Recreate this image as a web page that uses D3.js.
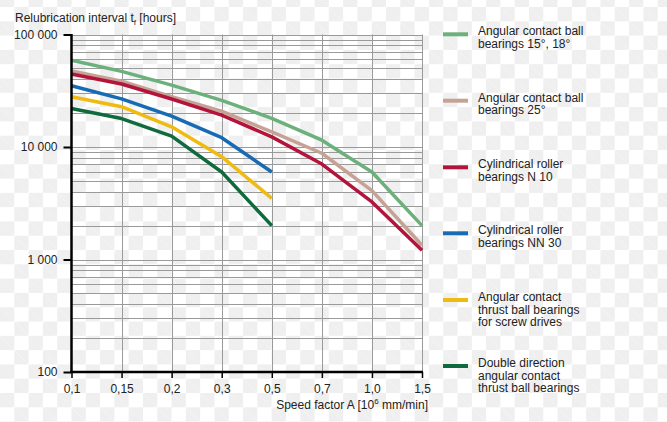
<!DOCTYPE html>
<html lang="en">
<head>
  <meta charset="UTF-8">
  <title>Relubrication interval</title>
  <script src="https://d3js.org/d3.v7.min.js"></script>
  <style>
    html, body { margin: 0; padding: 0; }
    body {
      width: 667px; height: 422px; overflow: hidden;
      background-color: #fff;
      background-image:
        linear-gradient(45deg, #efefef 25%, transparent 25%, transparent 75%, #efefef 75%),
        linear-gradient(45deg, #efefef 25%, transparent 25%, transparent 75%, #efefef 75%);
      background-size: 28.6px 28.6px;
      background-position: 0px 7px, 14.3px 21.3px;
    }
    svg { display: block; font-family: "Liberation Sans", Arial, sans-serif; }
    .grid line { stroke: #9a9a9a; stroke-width: 1; }
    .lbl { font-size: 12px; fill: #222; }
  </style>
</head>
<body>
<svg></svg>
<script>
  const speeds = ["0,1", "0,15", "0,2", "0,3", "0,5", "0,7", "1,0", "1,5"];
  const yTicks = [100, 1000, 10000, 100000];
  const yTickLabels = ["100", "1 000", "10 000", "100 000"];

  const acb1518 = [59000, 47000, 35500, 26000, 18000, 11500, 6000, 2000];
  const acb25 = [47500, 38500, 28000, 20800, 13600, 8800, 4100, 1340];
  const crbN10 = [44500, 36300, 26700, 19200, 12300, 7050, 3250, 1210];
  const crbNN30 = [35000, 26800, 18800, 12100, 6000];
  const actbScrew = [28000, 22800, 15100, 8200, 3500];
  const ddActb = [22000, 17900, 12500, 6000, 2000];

  const seriesNames = [
    ["Angular contact ball", "bearings 15°, 18°"],
    ["Angular contact ball", "bearings 25°"],
    ["Cylindrical roller", "bearings N 10"],
    ["Cylindrical roller", "bearings NN 30"],
    ["Angular contact", "thrust ball bearings", "for screw drives"],
    ["Double direction", "angular contact", "thrust ball bearings"]
  ];
  const seriesColors = ["#6cb07c", "#c6a295", "#b3143c", "#176bb5", "#f0bb10", "#0f6a3d"];
  const seriesValues = [acb1518, acb25, crbN10, crbNN30, actbScrew, ddActb];

  const width = 667, height = 422;
  const svg = d3.select("svg").attr("width", width).attr("height", height);

  const x = d3.scalePoint().domain(speeds).range([71.5, 422]);
  const y = d3.scaleLog().domain([100, 100000]).range([372, 34.5]);

  // grid
  const minor = [];
  [100, 1000, 10000].forEach(d => { for (let k = 2; k <= 9; k++) minor.push(d * k); });
  const grid = svg.append("g").attr("class", "grid");
  grid.selectAll(".h").data(minor.concat([100000])).enter().append("line")
    .attr("x1", x(speeds[0])).attr("x2", x(speeds[speeds.length - 1]))
    .attr("y1", d => Math.round(y(d)) + 0.5).attr("y2", d => Math.round(y(d)) + 0.5);
  grid.selectAll(".hm").data([1000, 10000]).enter().append("line")
    .attr("x1", x(speeds[0])).attr("x2", x(speeds[speeds.length - 1]))
    .attr("y1", d => Math.round(y(d)) + 0.5).attr("y2", d => Math.round(y(d)) + 0.5);
  grid.selectAll(".v").data(speeds.slice(1)).enter().append("line")
    .attr("x1", d => Math.round(x(d)) + 0.5).attr("x2", d => Math.round(x(d)) + 0.5)
    .attr("y1", y(100000)).attr("y2", y(100));

  // series lines
  const line = d3.line().x((d, i) => x(speeds[i])).y(d => y(d));
  svg.selectAll(".series").data(seriesValues).enter().append("path")
    .attr("d", d => line(d))
    .attr("fill", "none")
    .attr("stroke", (d, i) => seriesColors[i])
    .attr("stroke-width", 3.5)
    .attr("stroke-linejoin", "round");

  // axes
  const yAxis = svg.append("g").attr("transform", "translate(71.5,0)")
    .call(d3.axisLeft(y).tickValues(yTicks).tickFormat((d, i) => yTickLabels[i]).tickSize(8).tickPadding(6));
  yAxis.selectAll("text").attr("class", "lbl").attr("font-size", null).attr("font-family", null);
  yAxis.selectAll("line").attr("stroke", "#000").attr("stroke-width", 2);
  yAxis.select(".domain").remove();

  const xAxis = svg.append("g").attr("transform", "translate(0,372)")
    .call(d3.axisBottom(x).tickSize(6).tickPadding(6));
  xAxis.selectAll("text").attr("class", "lbl").attr("font-size", null).attr("font-family", null);
  xAxis.selectAll("line").attr("stroke", "#000").attr("stroke-width", 1.5);
  xAxis.select(".domain").remove();

  svg.append("line").attr("x1", 71.5).attr("x2", 71.5).attr("y1", 34).attr("y2", 373)
    .attr("stroke", "#000").attr("stroke-width", 2.5);
  svg.append("line").attr("x1", 70).attr("x2", 423).attr("y1", 372).attr("y2", 372)
    .attr("stroke", "#000").attr("stroke-width", 2.5);

  // axis titles
  const yt = svg.append("text").attr("class", "lbl").attr("x", 15).attr("y", 22);
  yt.append("tspan").text("Relubrication interval t");
  yt.append("tspan").attr("font-size", 8).attr("dy", 3).text("f");
  yt.append("tspan").attr("dy", -3).text(" [hours]");

  const xt = svg.append("text").attr("class", "lbl").attr("x", 428).attr("y", 409).attr("text-anchor", "end");
  xt.append("tspan").text("Speed factor A [10");
  xt.append("tspan").attr("font-size", 8).attr("dy", -5).text("6");
  xt.append("tspan").attr("dy", 5).text(" mm/min]");

  // legend
  const legendY = [34.3, 100.7, 167.3, 233.3, 300, 366];
  const lg = svg.selectAll(".leg").data(seriesNames).enter().append("g")
    .attr("transform", (d, i) => `translate(443,${legendY[i]})`);
  lg.append("line").attr("x1", 0).attr("x2", 25).attr("y1", 0).attr("y2", 0)
    .attr("stroke", (d, i) => seriesColors[i]).attr("stroke-width", 4);
  lg.append("text").attr("class", "lbl").attr("x", 35).attr("y", 0)
    .selectAll("tspan").data(d => d).enter().append("tspan")
    .attr("x", 35).attr("y", (d, i) => i * 12.6 + 1).text(d => d);
</script>
</body>
</html>
